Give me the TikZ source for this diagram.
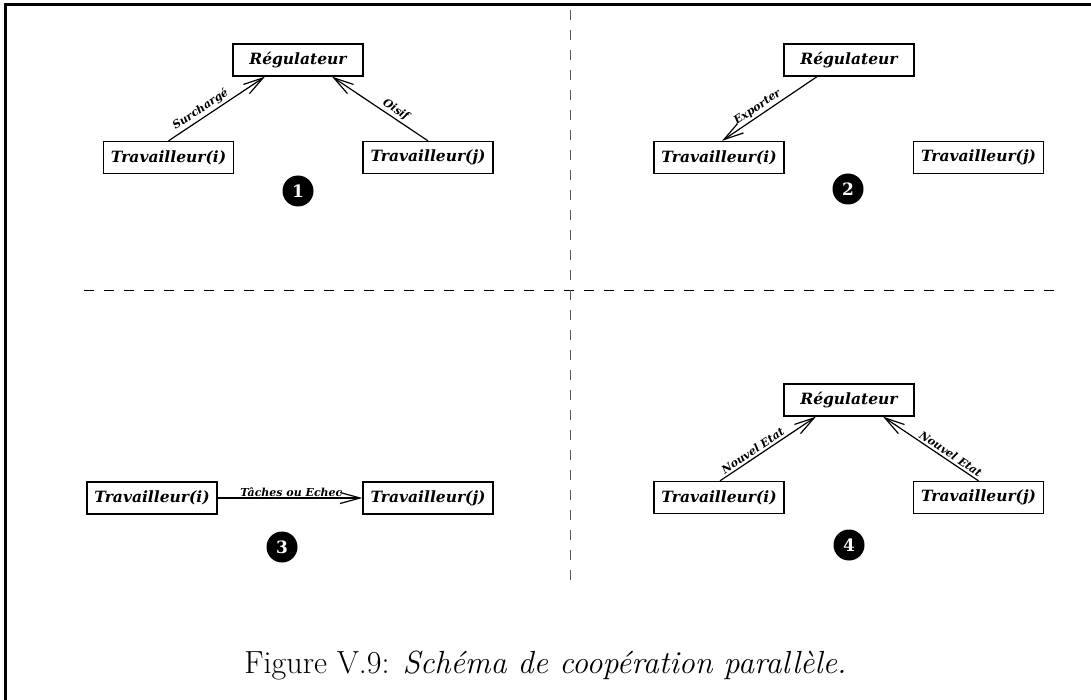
\documentclass[tikz,border=0pt]{standalone}
\usepackage{fontspec}
\newfontfamily\boxfont{DejaVu Serif}
\usetikzlibrary{arrows.meta,calc}
\begin{document}
\begin{tikzpicture}[x=1pt,y=-1pt,
  box/.style={draw, line width=1.3pt, minimum width=130pt, minimum height=32pt, inner sep=0pt,
    font=\boxfont\bfseries\itshape\fontsize{15.5}{17}\selectfont},
  num/.style={circle, fill=black, text=white, minimum size=31pt, inner sep=0pt,
    font=\boxfont\bfseries\fontsize{17}{17}\selectfont},
  flow/.style={line width=1.2pt, -{Straight Barb[length=20pt,width=11pt,line width=1.2pt]}},
  lab/.style={font=\boxfont\bfseries\itshape\fontsize{11}{12}\selectfont, sloped, above, inner sep=2pt},
  sep/.style={dash pattern=on 10pt off 10pt}
]
\useasboundingbox (0,0) rectangle (1091,700);
% frame
\draw[line width=3pt] (5.5,700) -- (5.5,4.5) -- (1091,4.5);
% separators
\draw[sep, line width=0.9pt] (84,290) -- (1064,290);
\draw[sep, line width=0.9pt, black!65] (570,10) -- (570,585);

% panel 1
\node[box] (r1) at (298,60) {Régulateur};
\node[box] (t1i) at (168.5,157.5) {Travailleur(i)};
\node[box] (t1j) at (428,157.5) {Travailleur(j)};
\draw[flow] (t1i.north) -- node[lab, pos=0.38] {Surchargé} ([xshift=-33pt]r1.south);
\draw[flow] (t1j.north) -- node[lab, pos=0.38] {Oisif} ([xshift=34pt]r1.south);
\node[num] (n1) at (298,191) {1};

% panel 2
\node[box] (r2) at (849,60) {Régulateur};
\node[box] (t2i) at (719,157.5) {Travailleur(i)};
\node[box] (t2j) at (978.5,157.5) {Travailleur(j)};
\draw[flow] ([xshift=-32pt]r2.south) -- node[lab, pos=0.58] {Exporter} ([xshift=3pt]t2i.north);
\node[num] (n2) at (848,189) {2};

% panel 3
\node[box] (t3i) at (152,498) {Travailleur(i)};
\node[box] (t3j) at (428,498) {Travailleur(j)};
\draw[flow] (t3i.east) -- node[lab, pos=0.51, inner sep=1pt] {Tâches ou Echec} (t3j.west);
\node[num] (n3) at (282,547) {3};

% panel 4
\node[box] (r4) at (849,400) {Régulateur};
\node[box] (t4i) at (719,497.5) {Travailleur(i)};
\node[box] (t4j) at (978.5,497.5) {Travailleur(j)};
\draw[flow] ([xshift=1pt]t4i.north) -- node[lab, pos=0.38] {Nouvel Etat} ([xshift=-33pt]r4.south);
\draw[flow] (t4j.north) -- node[lab, pos=0.33] {Nouvel Etat} ([xshift=34pt]r4.south);
\node[num] (n4) at (849,545) {4};

% caption
\node[anchor=base, font=\fontsize{32}{38}\selectfont] (cap) at (545.5,673) {Figure V.9: \textit{Schéma de coopération parallèle.}};
\end{tikzpicture}
\end{document}
